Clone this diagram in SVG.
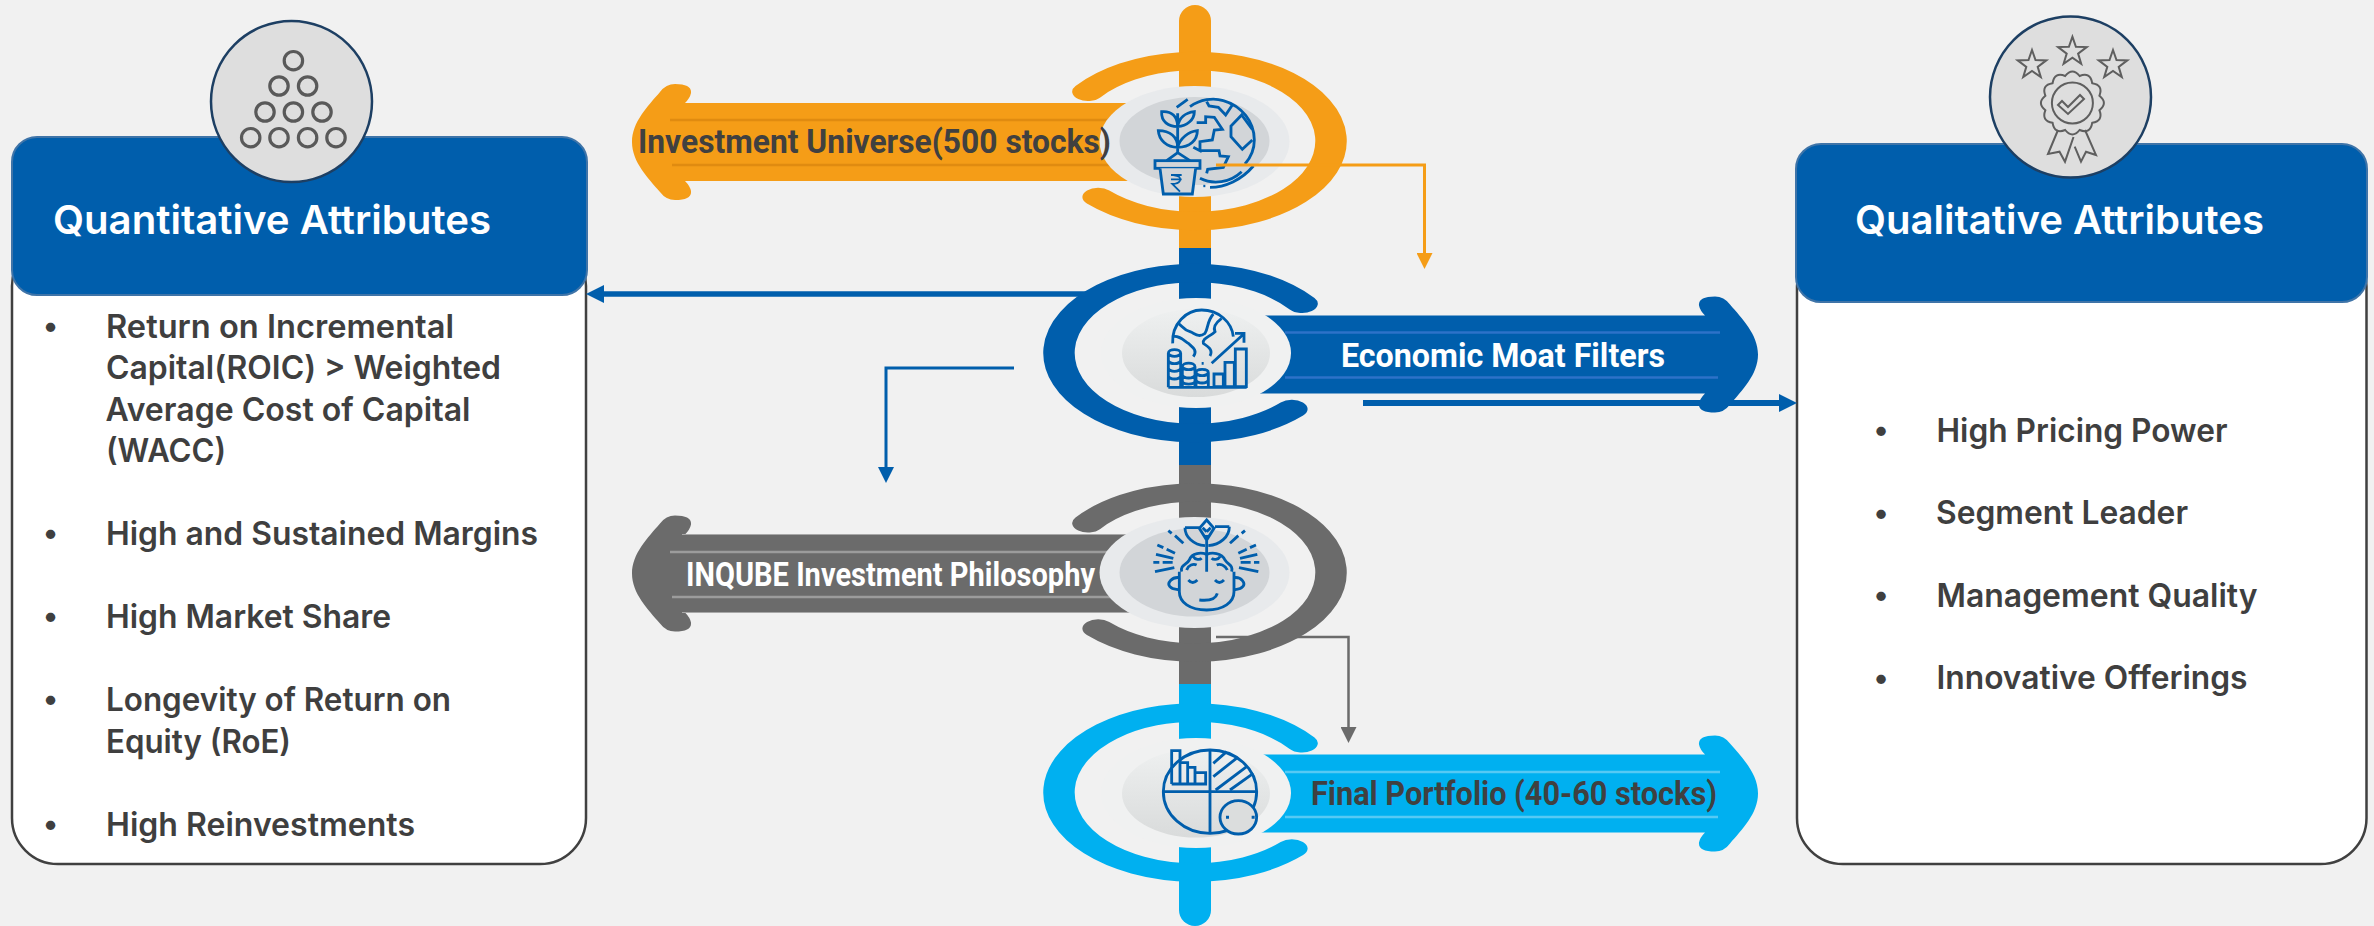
<svg xmlns="http://www.w3.org/2000/svg" width="2374" height="926" viewBox="0 0 2374 926">
<style>
text{font-family:"Inter","Liberation Sans",sans-serif}
.hd{font-size:40px;font-weight:600;fill:#fff}
.li{font-size:32px;font-weight:600;fill:#3f3f3f}
.bu{font-size:30px;font-weight:600;fill:#3f3f3f;text-anchor:middle}
.bd{font-family:"Roboto","Liberation Sans",sans-serif;font-size:33px;font-weight:700}
.box{fill:#fff;stroke:#404040;stroke-width:2.5}
.head{fill:#005eac;stroke:#3f74a8;stroke-width:2}
.disc{fill:#dedede;stroke:#1d3f63;stroke-width:2.5}
.ic{fill:none;stroke:#005eac;stroke-width:8.5;stroke-linejoin:miter}
.gi{fill:none;stroke:#5f5f5f;stroke-width:2}
.or{color:#f59d17}.bl{color:#005eac}.gr{color:#6b6b6b}.cy{color:#00b0f0}
.cn{fill:none}
</style>
<defs>
<path id="ring" fill="none" stroke="currentColor" stroke-width="18.5" stroke-linecap="round" d="M-63,-49.3A80,80 0 1 1 -57,56.1"/>
<path id="bar" fill="currentColor" d="M-65,-39L-510,-39Q-505,-44 -504,-49Q-503,-58 -520,-58Q-529,-58 -535,-50C-547,-36 -563,-20 -563,0C-563,20 -547,36 -535,50Q-529,58 -520,58Q-503,58 -504,49Q-505,44 -510,39L-65,39Z"/>
<linearGradient id="soft" x1="0" y1="0" x2="0" y2="1"><stop offset="0" stop-color="#eef0f0"/><stop offset="1" stop-color="#d9dbdb"/></linearGradient>
<marker id="mOr" markerUnits="userSpaceOnUse" markerWidth="16" markerHeight="16" refX="0" refY="8" orient="auto"><path d="M0,0L16,8L0,16Z" fill="#f59d17"/></marker>
<marker id="mGr" markerUnits="userSpaceOnUse" markerWidth="16" markerHeight="16" refX="0" refY="8" orient="auto"><path d="M0,0L16,8L0,16Z" fill="#6b6b6b"/></marker>
<marker id="mBl" markerUnits="userSpaceOnUse" markerWidth="16" markerHeight="16" refX="0" refY="8" orient="auto"><path d="M0,0L16,8L0,16Z" fill="#005eac"/></marker>
<marker id="mBb" markerUnits="userSpaceOnUse" markerWidth="18" markerHeight="18" refX="0" refY="9" orient="auto"><path d="M0,0L18,9L0,18Z" fill="#005eac"/></marker>
</defs>
<rect width="2374" height="926" fill="#f1f1f1"/>

<g id="spine">
<path d="M1179,248V21A16,16 0 0 1 1211,21V248Z" fill="#f59d17"/>
<rect x="1179" y="248" width="32" height="217" fill="#005eac"/>
<rect x="1179" y="465" width="32" height="219" fill="#6b6b6b"/>
<path d="M1179,684H1211V910A16,16 0 0 1 1179,910Z" fill="#00b0f0"/>
</g>

<g id="node-universe">
<use href="#ring" class="or" transform="translate(1195,141) scale(1.7,1)"/>
<use href="#bar" class="or" transform="translate(1195,142)"/>
<path d="M670,120H1110M672,165H1110" stroke="#e08b10" stroke-width="2.5" fill="none"/>
<ellipse cx="1194.5" cy="141.5" rx="95" ry="55.5" fill="#e8eaec"/>
<ellipse cx="1194.5" cy="141" rx="75" ry="44" fill="#d2d5d8"/>
<g class="ic" transform="translate(1135,90) scale(.3333)">
<path d="M125,52L158,28M165,50C195,28 235,22 265,32C320,48 358,95 358,150C358,180 345,205 330,222M225,292C270,292 320,270 355,228M195,265C235,285 285,278 320,245"/>
<path d="M215,35L222,48L250,52L272,75L292,45M352,118L320,75L288,108L288,140L322,178L352,150"/>
<path d="M185,98L212,98L212,80L238,82L262,118L238,120L232,150L195,155L195,182L175,172M195,182L252,182L255,198L280,200L265,232L218,238L215,250"/>
<path d="M128,190V70M95,212L128,188L165,212M128,110C100,110 78,95 80,65C110,62 128,80 128,110C132,85 150,68 178,65C178,90 155,108 128,110M128,172C95,172 72,150 70,122C105,122 128,140 128,172C135,145 160,125 187,122C187,150 165,172 128,172"/>
<rect x="60" y="212" width="135" height="23" fill="#d2d5d8"/>
<path d="M75,235L85,312H172L182,235" fill="#d2d5d8"/>
<path d="M108,255H140M108,268H140M115,255Q140,258 135,272Q130,282 112,282L135,305" stroke-width="5.500"/>
<path d="M205,288h6" stroke-width="7"/>
</g>
<text class="bd" x="638" y="153" fill="#404040" textLength="473" lengthAdjust="spacingAndGlyphs">Investment Universe(500 stocks)</text>
</g>

<g id="node-moat">
<use href="#ring" class="bl" transform="translate(1195,353) scale(-1.7,1)"/>
<use href="#bar" class="bl" transform="translate(1195,354.5) scale(-1,1)"/>
<path d="M1285,332.5H1720M1285,377.5H1718" stroke="#2d72c8" stroke-width="2.5" fill="none"/>
<ellipse cx="1196" cy="353" rx="95" ry="55" fill="#f0f1f1"/>
<ellipse cx="1196" cy="353" rx="74" ry="44" fill="url(#soft)"/>
<g class="ic" transform="translate(1150,300) scale(.3333)">
<path d="M68,130C65,70 110,30 155,30C205,30 245,65 250,110"/>
<path d="M82,68C95,75 100,90 120,95C135,100 145,115 165,100C175,85 170,65 190,42M68,110C85,105 100,120 115,130C125,140 145,150 130,170M215,55C195,70 190,85 195,95C180,110 155,115 160,130C175,140 190,150 180,168"/>
<path d="M185,190L278,105M255,100H282V128M155,190h6"/>
<path d="M55,160C55,145 92,145 92,160V262M55,160V262M55,160C60,172 87,172 92,160M55,182C60,194 87,194 92,182M55,205C60,217 87,217 92,205M55,228C60,240 87,240 92,228"/>
<path d="M97,200C97,186 135,186 135,200V262M97,200V262M97,200C102,212 130,212 135,200M97,225C102,237 130,237 135,225M97,245C102,255 130,255 135,245"/>
<path d="M138,218C138,205 175,205 175,218V262M138,218V262M138,218C143,230 170,230 175,218M138,240C143,252 170,252 175,240"/>
<path d="M192,222H220V260H192ZM225,187H253V260H225ZM256,147H289V260H256ZM55,262H290"/>
</g>
<text class="bd" x="1341" y="367" fill="#fff" textLength="324" lengthAdjust="spacingAndGlyphs">Economic Moat Filters</text>
</g>

<g id="node-philosophy">
<use href="#ring" class="gr" transform="translate(1195,572.5) scale(1.7,1)"/>
<use href="#bar" class="gr" transform="translate(1195,573.5)"/>
<path d="M670,552H1110M672,597H1110" stroke="#9c9c9c" stroke-width="2.5" fill="none"/>
<path d="M1195,534.5H682M1195,612.5H682" stroke="#a8a8a8" stroke-width="1.2" fill="none"/>
<ellipse cx="1194.5" cy="572.5" rx="95" ry="55.5" fill="#e8eaec"/>
<ellipse cx="1194.5" cy="572.5" rx="75" ry="44" fill="#d2d5d8"/>
<g class="ic" transform="translate(1140,515) scale(.3333)">
<path d="M118,170V230C118,262 150,285 200,285C250,285 282,262 282,230V170"/>
<path d="M118,188C95,185 80,205 90,215C98,225 112,222 118,225M282,188C305,185 318,205 308,215C300,225 288,222 282,225"/>
<path d="M145,195Q158,210 172,195M225,195Q238,210 252,195M178,255Q225,260 232,235"/>
<path d="M125,170C120,150 140,150 148,135C155,112 185,112 200,118C215,112 245,112 255,135C265,150 280,150 275,170M140,165C145,150 160,145 170,150M262,165C255,150 240,145 230,150M160,125C165,135 180,135 185,130M240,125C235,135 220,135 215,130"/>
<path d="M200,170V60M200,15L178,40L200,75L222,40ZM135,38H180M135,38C135,65 160,90 195,92M268,35H225M268,35C268,65 240,90 205,92M200,50L188,38M200,50L212,38"/>
<path d="M85,47L95,55M105,62L130,85M52,90L70,98M80,103L105,115M48,118L100,130M40,142H58M68,142H98M45,170L103,158"/>
<path d="M315,47L305,55M295,62L270,85M348,90L330,98M320,103L295,115M352,118L300,130M358,142H342M332,142H302M355,170L297,158"/>
</g>
<text class="bd" x="686" y="586" fill="#fff" textLength="409" lengthAdjust="spacingAndGlyphs">INQUBE Investment Philosophy</text>
</g>

<g id="node-portfolio">
<use href="#ring" class="cy" transform="translate(1195,792.5) scale(-1.7,1)"/>
<use href="#bar" class="cy" transform="translate(1195,793.5) scale(-1,1)"/>
<path d="M1285,772H1720M1285,817H1718" stroke="#56c9f4" stroke-width="2.5" fill="none"/>
<ellipse cx="1196" cy="793" rx="95" ry="55" fill="#f0f1f1"/>
<ellipse cx="1196" cy="793.5" rx="74" ry="44" fill="url(#soft)"/>
<g class="ic" transform="translate(1155,740) scale(.3333)">
<ellipse cx="165" cy="155" rx="140" ry="125"/>
<path d="M165,30V282M25,155H305"/>
<path d="M50,132V32H75V132M75,68H98V132M98,82H120V132M120,98H152V132H50"/>
<path d="M175,70L215,35M175,110L248,52M182,150L275,80M225,150L295,100"/>
<ellipse cx="250" cy="232" rx="55" ry="50" fill="#dbdddd"/>
<path d="M213,232h9M290,232h9" stroke-width="9"/>
</g>
<text class="bd" x="1311" y="805" fill="#404040" textLength="406" lengthAdjust="spacingAndGlyphs">Final Portfolio (40-60 stocks)</text>
</g>

<g id="node-quantitative">
<rect class="box" x="12" y="240" width="574" height="624" rx="46"/>
<rect class="head" x="12" y="137" width="575" height="158" rx="25"/>
<ellipse class="disc" cx="291.500" cy="101.500" rx="80.500" ry="80.500"/>
<g fill="none" stroke="#595959" stroke-width="3.200">
<circle cx="293.400" cy="60.700" r="9.200"/>
<circle cx="279" cy="86" r="9.200"/><circle cx="307.600" cy="86" r="9.200"/>
<circle cx="265" cy="112" r="9.200"/><circle cx="293.400" cy="112" r="9.200"/><circle cx="322" cy="112" r="9.200"/>
<circle cx="250.700" cy="137.700" r="9.200"/><circle cx="279" cy="137.700" r="9.200"/><circle cx="307.600" cy="137.700" r="9.200"/><circle cx="336" cy="137.700" r="9.200"/>
</g>
<text class="hd" x="53" y="234" textLength="438" lengthAdjust="spacingAndGlyphs">Quantitative Attributes</text>
<text class="bu" x="50.500" y="336">•</text>
<text class="li" x="106" y="338" textLength="348" lengthAdjust="spacingAndGlyphs">Return on Incremental</text>
<text class="li" x="106" y="379" textLength="395" lengthAdjust="spacingAndGlyphs">Capital(ROIC) &gt; Weighted</text>
<text class="li" x="105.500" y="420.500" textLength="365" lengthAdjust="spacingAndGlyphs">Average Cost of Capital</text>
<text class="li" x="106" y="462" textLength="120" lengthAdjust="spacingAndGlyphs">(WACC)</text>
<text class="bu" x="50.500" y="543">•</text>
<text class="li" x="106" y="545" textLength="432" lengthAdjust="spacingAndGlyphs">High and Sustained Margins</text>
<text class="bu" x="50.500" y="626">•</text>
<text class="li" x="106" y="628" textLength="285" lengthAdjust="spacingAndGlyphs">High Market Share</text>
<text class="bu" x="50.500" y="709">•</text>
<text class="li" x="106" y="711" textLength="345" lengthAdjust="spacingAndGlyphs">Longevity of Return on</text>
<text class="li" x="106" y="753" textLength="185" lengthAdjust="spacingAndGlyphs">Equity (RoE)</text>
<text class="bu" x="50.500" y="833.500">•</text>
<text class="li" x="106" y="835.500" textLength="309" lengthAdjust="spacingAndGlyphs">High Reinvestments</text>
</g>

<g id="node-qualitative">
<rect class="box" x="1797" y="240" width="569.500" height="624" rx="46"/>
<rect class="head" x="1796" y="144" width="571" height="158" rx="25"/>
<ellipse class="disc" cx="2070.500" cy="97" rx="80.500" ry="80.500"/>
<g class="gi">
<path transform="translate(2072.400,51.700)" d="M0,-15L3.500,-4.900L14.300,-4.600L5.700,1.900L8.800,12.100L0,6L-8.800,12.100L-5.700,1.900L-14.300,-4.600L-3.500,-4.900Z"/>
<path transform="translate(2032,65)" d="M0,-15L3.500,-4.900L14.300,-4.600L5.700,1.900L8.800,12.100L0,6L-8.800,12.100L-5.700,1.900L-14.300,-4.600L-3.500,-4.900Z"/>
<path transform="translate(2113,65)" d="M0,-15L3.500,-4.900L14.300,-4.600L5.700,1.900L8.800,12.100L0,6L-8.800,12.100L-5.700,1.900L-14.300,-4.600L-3.500,-4.900Z"/>
<path transform="translate(2072.400,103)" d="M27,7.200Q31.200,18 19.800,19.800Q18,31.200 7.200,27Q0,36 -7.200,27Q-18,31.200 -19.800,19.800Q-31.200,18 -27,7.200Q-36,0 -27,-7.200Q-31.200,-18 -19.800,-19.800Q-18,-31.200 -7.200,-27Q0,-36 7.200,-27Q18,-31.200 19.800,-19.800Q31.200,-18 27,-7.200Q36,0 27,7.200Z"/>
<circle cx="2072.400" cy="103" r="20.500"/>
<path d="M2058,105L2062,101L2068,107L2080,95L2084,99L2068,114Z"/>
<path d="M2058,130L2048,154L2059.500,151.700L2065,161.700L2073.500,137M2085,130L2096,155L2086,151.700L2081,161.700L2074.700,146.700"/>
</g>
<text class="hd" x="1855" y="234" textLength="409" lengthAdjust="spacingAndGlyphs">Qualitative Attributes</text>
<text class="bu" x="1881" y="440">•</text>
<text class="li" x="1936.500" y="441.700" textLength="291" lengthAdjust="spacingAndGlyphs">High Pricing Power</text>
<text class="bu" x="1881" y="522.500">•</text>
<text class="li" x="1936" y="523.500" textLength="252" lengthAdjust="spacingAndGlyphs">Segment Leader</text>
<text class="bu" x="1881" y="605">•</text>
<text class="li" x="1936.500" y="606.700" textLength="321" lengthAdjust="spacingAndGlyphs">Management Quality</text>
<text class="bu" x="1881" y="688">•</text>
<text class="li" x="1936.500" y="689.300" textLength="311" lengthAdjust="spacingAndGlyphs">Innovative Offerings</text>
</g>

<g id="connectors" class="cn">
<path d="M1216,165H1424.500V253" stroke="#f59d17" stroke-width="3" marker-end="url(#mOr)"/>
<path d="M1086,294H604" stroke="#005eac" stroke-width="5.500" marker-end="url(#mBb)"/>
<path d="M1363,403H1779" stroke="#005eac" stroke-width="6" marker-end="url(#mBb)"/>
<path d="M1014,368H886V467" stroke="#005eac" stroke-width="3" marker-end="url(#mBl)"/>
<path d="M1216,637H1348.500V727" stroke="#6b6b6b" stroke-width="2.500" marker-end="url(#mGr)"/>
</g>
</svg>
